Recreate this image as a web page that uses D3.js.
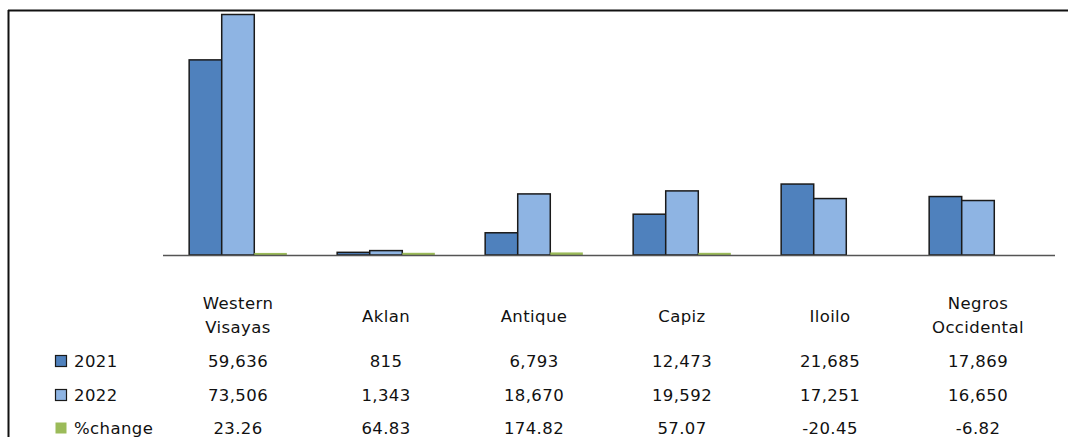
<!DOCTYPE html>
<html>
<head>
<meta charset="utf-8">
<script src="https://cdn.jsdelivr.net/npm/d3@7"></script>
<style>
  body { margin: 0; background: #fff; }
  text { font-family: "DejaVu Sans", sans-serif; font-size: 16.5px; fill: #111; letter-spacing: 0.4px; }
</style>
</head>
<body>
<svg id="chart" width="1068" height="437"></svg>
<script>
var svg = d3.select("#chart");
var width = +svg.attr("width"),
    height = +svg.attr("height");

// data
var categories = ["Western Visayas", "Aklan", "Antique", "Capiz", "Iloilo", "Negros Occidental"];
var catLines = [["Western", "Visayas"], ["Aklan"], ["Antique"], ["Capiz"], ["Iloilo"], ["Negros", "Occidental"]];
var seriesNames = ["2021", "2022", "%change"];
var values2021 = [59636, 815, 6793, 12473, 21685, 17869];
var values2022 = [73506, 1343, 18670, 19592, 17251, 16650];
var pctChange = [23.26, 64.83, 174.82, 57.07, -20.45, -6.82];
var tableText = [
  ["59,636", "815", "6,793", "12,473", "21,685", "17,869"],
  ["73,506", "1,343", "18,670", "19,592", "17,251", "16,650"],
  ["23.26", "64.83", "174.82", "57.07", "-20.45", "-6.82"]
];
var colors = ["#4F81BD", "#8EB4E3", "#9BBB59"];
var allSeries = [values2021, values2022, pctChange];

var baseline = 255;

// outer frame (top and left only visible)
svg.append("line").attr("x1", 8).attr("x2", width).attr("y1", 10.5).attr("y2", 10.5)
  .attr("stroke", "#111").attr("stroke-width", 2);
svg.append("line").attr("x1", 8.5).attr("x2", 8.5).attr("y1", 10).attr("y2", height)
  .attr("stroke", "#111").attr("stroke-width", 2);

// scales
var x = d3.scaleBand()
  .domain(categories)
  .range([164, 1052])
  .paddingInner(0.34)
  .paddingOuter(0.17);

var xSub = d3.scaleBand()
  .domain(seriesNames)
  .range([0, x.bandwidth()]);

var y = d3.scaleLinear()
  .domain([0, 73506])
  .range([baseline, 14.5]);

// bars
var groups = svg.selectAll("g.cat")
  .data(categories)
  .enter()
  .append("g")
    .attr("class", "cat")
    .attr("transform", d => "translate(" + x(d) + ",0)");

groups.each(function(cat, ci) {
  var g = d3.select(this);
  seriesNames.forEach(function(s, si) {
    var v = allSeries[si][ci];
    var y0 = y(Math.max(0, v)), y1 = y(Math.min(0, v));
    if (si < 2) {
      g.append("rect")
        .attr("x", xSub(s))
        .attr("y", y0)
        .attr("width", xSub.bandwidth())
        .attr("height", y1 - y0)
        .attr("fill", colors[si])
        .attr("stroke", "#1a1a1a")
        .attr("stroke-width", 1.5);
    } else if (v > 0) {
      // %change is tiny on this axis: only a thin sliver shows
      g.append("rect")
        .attr("x", xSub(s))
        .attr("y", y0 - 2)
        .attr("width", xSub.bandwidth())
        .attr("height", y1 - y0 + 2)
        .attr("fill", colors[si]);
    }
  });
});

// baseline
svg.append("line")
  .attr("x1", 163).attr("x2", 1055)
  .attr("y1", baseline + 0.5).attr("y2", baseline + 0.5)
  .attr("stroke", "#555").attr("stroke-width", 1.5);

// category labels
var labelG = svg.append("g");
categories.forEach(function(cat, ci) {
  var cx = x(cat) + x.bandwidth() / 2;
  var lines = catLines[ci];
  var startY = lines.length === 2 ? 309 : 322;
  lines.forEach(function(ln, li) {
    labelG.append("text")
      .attr("x", cx)
      .attr("y", startY + li * 24)
      .attr("text-anchor", "middle")
      .text(ln);
  });
});

// data table rows
var rowY = [367, 401, 434];
seriesNames.forEach(function(s, si) {
  var legendBox = svg.append("rect")
    .attr("x", 55.5).attr("y", rowY[si] - 11.5)
    .attr("width", 11).attr("height", 11)
    .attr("fill", colors[si]);
  if (si < 2) legendBox.attr("stroke", "#1a1a1a").attr("stroke-width", 1.2);

  svg.append("text")
    .attr("x", 74)
    .attr("y", rowY[si])
    .text(s);

  categories.forEach(function(cat, ci) {
    svg.append("text")
      .attr("x", x(cat) + x.bandwidth() / 2)
      .attr("y", rowY[si])
      .attr("text-anchor", "middle")
      .text(tableText[si][ci]);
  });
});
</script>
</body>
</html>
